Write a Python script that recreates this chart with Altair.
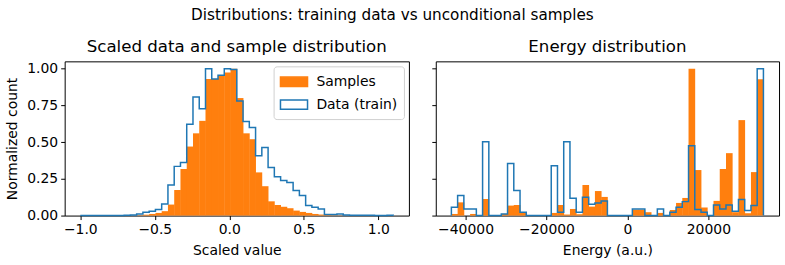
import altair as alt
import numpy as np
import pandas as pd

# ---------------- data (normalized histogram heights) ----------------
scaled_range = [-1.0, 1.1]          # histogram range, 50 bins
scaled_samples = [
    0, 0, 0, 0, 0, 0, 0, 0, 0, 0.002,
    0.006, 0.011, 0.018, 0.03, 0.075, 0.174, 0.317, 0.47, 0.56, 0.645,
    0.93, 0.93, 0.955, 0.975, 1.0, 0.80, 0.56, 0.52, 0.294, 0.20,
    0.097, 0.072, 0.06, 0.05, 0.034, 0.025, 0.018, 0.011, 0.007, 0.004,
    0.002, 0.001, 0, 0, 0, 0, 0, 0, 0, 0,
]
scaled_data = [
    0, 0, 0, 0, 0, 0, 0, 0.002, 0.004, 0.011,
    0.023, 0.03, 0.041, 0.079, 0.208, 0.335, 0.362, 0.622, 0.808, 0.728,
    1.0, 0.93, 0.955, 1.0, 0.995, 0.78, 0.64, 0.60, 0.407, 0.464,
    0.328, 0.265, 0.238, 0.226, 0.17, 0.136, 0.068, 0.057, 0.045, 0.008,
    0.007, 0.011, 0.004, 0.003, 0.003, 0.002, 0.002, 0.001, 0.001, 0.002,
]
energy_range = [-43500, 33600]      # histogram range, 50 bins
energy_samples = [
    0.011, 0.09, 0, 0.011, 0, 0.113, 0, 0, 0.011, 0.068,
    0.072, 0.018, 0, 0, 0, 0, 0.018, 0.072, 0.007, 0.045,
    0.009, 0.208, 0.061, 0.167, 0.127, 0, 0, 0, 0, 0.04,
    0.04, 0.023, 0, 0.018, 0, 0.038, 0.086, 0.12, 1.0, 0.31,
    0.055, 0, 0.10, 0.317, 0.425, 0.023, 0.65, 0.016, 0.296, 0.928,
]
energy_data = [
    0.057, 0.136, 0.045, 0.045, 0, 0.502, 0, 0, 0.011, 0.355,
    0.17, 0.023, 0, 0, 0, 0, 0.339, 0.023, 0.502, 0.118,
    0.023, 0.124, 0.077, 0.086, 0.1, 0, 0, 0, 0, 0.045,
    0.045, 0, 0, 0.045, 0, 0.023, 0.057, 0.095, 0.475, 0.041,
    0.023, 0, 0.072, 0.045, 0.072, 0.03, 0.11, 0.034, 0.068, 1.0,
]
series_names = ["Samples", "Data (train)"]
y_ticks = [0, 0.25, 0.5, 0.75, 1.0]
scaled_ticks = [-1.0, -0.5, 0.0, 0.5, 1.0]
energy_ticks = [-40000, -20000, 0, 20000]

ORANGE = "#ff7f0e"
BLUE = "#1f77b4"
FONT = "DejaVu Sans"


def edges_for(rng, n):
    return np.linspace(rng[0], rng[1], n + 1)


def bar_frame(edges, heights, series):
    return pd.DataFrame({"lo": edges[:-1], "hi": edges[1:], "h": heights,
                         "base": 0.0, "series": series})


def step_frame(edges, heights, series):
    xs, ys = [edges[0]], [0.0]
    for i, h in enumerate(heights):
        xs += [edges[i], edges[i + 1]]
        ys += [h, h]
    xs.append(edges[-1])
    ys.append(0.0)
    return pd.DataFrame({"x": xs, "y": ys, "o": list(range(len(xs))), "series": series})


def margin_domain(rng):
    w = rng[1] - rng[0]
    return [rng[0] - 0.05 * w, rng[1] + 0.05 * w]


W, H = 346, 155
legend_path = "M-1.6,-0.55H1.6V0.55H-1.6Z"

yscale = alt.Scale(domain=[0, 1.05], nice=False, zero=False)

# ---------- left panel ----------
se = edges_for(scaled_range, len(scaled_samples))
xs_left = alt.Scale(domain=margin_domain(scaled_range), nice=False, zero=False)
left_xaxis = alt.Axis(values=scaled_ticks, format=".1f", title="Scaled value")
left_yaxis = alt.Axis(values=y_ticks, format=".2f", title="Normalized count")
leg = alt.Legend(title=None, orient="top-right", symbolType=legend_path, symbolSize=289,
                 symbolStrokeWidth=1.5, symbolOffset=5, labelFontSize=14, labelFont=FONT,
                 labelColor="black", strokeColor="#d0d0d0", fillColor="white",
                 cornerRadius=3, padding=6, offset=5, rowPadding=5, labelOffset=13)
fill_scale = alt.Scale(domain=series_names, range=[ORANGE, "#ffffff"])
stroke_scale = alt.Scale(domain=series_names, range=[ORANGE, BLUE])

left_bars = alt.Chart(bar_frame(se, scaled_samples, "Samples")).mark_rect(x2Offset=0.4).encode(
    x=alt.X("lo:Q", scale=xs_left, axis=left_xaxis),
    x2="hi:Q",
    y=alt.Y("h:Q", scale=yscale, axis=left_yaxis),
    y2="base:Q",
    fill=alt.Fill("series:N", scale=fill_scale, legend=leg),
)
left_step = alt.Chart(step_frame(se, scaled_data, "Data (train)")).mark_line(strokeWidth=1.5).encode(
    x=alt.X("x:Q", scale=xs_left, axis=left_xaxis),
    y=alt.Y("y:Q", scale=yscale, axis=left_yaxis),
    order="o:Q",
    stroke=alt.Stroke("series:N", scale=stroke_scale, legend=leg),
)
left = alt.layer(left_bars, left_step).properties(
    width=W, height=H,
    title=alt.TitleParams("Scaled data and sample distribution", fontSize=16.7,
                          fontWeight="normal", font=FONT, offset=6),
)

# ---------- right panel ----------
ee = edges_for(energy_range, len(energy_samples))
xs_right = alt.Scale(domain=margin_domain(energy_range), nice=False, zero=False)
right_xaxis = alt.Axis(values=energy_ticks, format="d", title="Energy (a.u.)")
right_yaxis = alt.Axis(values=y_ticks, labels=False, title=None)
right_bars = alt.Chart(bar_frame(ee, energy_samples, "Samples")).mark_rect(
    color=ORANGE, x2Offset=0.4).encode(
    x=alt.X("lo:Q", scale=xs_right, axis=right_xaxis),
    x2="hi:Q",
    y=alt.Y("h:Q", scale=yscale, axis=right_yaxis),
    y2="base:Q",
)
right_step = alt.Chart(step_frame(ee, energy_data, "Data (train)")).mark_line(
    strokeWidth=1.5, color=BLUE).encode(
    x=alt.X("x:Q", scale=xs_right, axis=right_xaxis),
    y=alt.Y("y:Q", scale=yscale, axis=right_yaxis),
    order="o:Q",
)
right = alt.layer(right_bars, right_step).properties(
    width=W - 1, height=H,
    title=alt.TitleParams("Energy distribution", fontSize=16.7,
                          fontWeight="normal", font=FONT, offset=6),
)

chart = alt.hconcat(left, right, spacing=21).resolve_scale(
    fill="independent", stroke="independent", x="independent", y="independent"
).resolve_legend(fill="independent", stroke="independent").properties(
    title=alt.TitleParams("Distributions: training data vs unconditional samples",
                          fontSize=15.3, fontWeight="normal", font=FONT, anchor="middle",
                          offset=15),
    padding={"left": 5, "top": 7, "right": 5, "bottom": 5},
).configure_axis(
    labelFont=FONT, titleFont=FONT, labelFontSize=14, titleFontSize=14,
    labelColor="black", titleColor="black", domain=False, tickColor="black",
    tickSize=4, tickWidth=1, grid=False, labelPadding=3, titleFontWeight="normal",
    labelOverlap=False,
).configure_axisY(titlePadding=7).configure_axisX(titlePadding=7).configure_view(
    stroke="black", strokeWidth=1
).configure_title(color="black")

chart.save("out.html", embed_options={"renderer": "svg", "actions": False})
